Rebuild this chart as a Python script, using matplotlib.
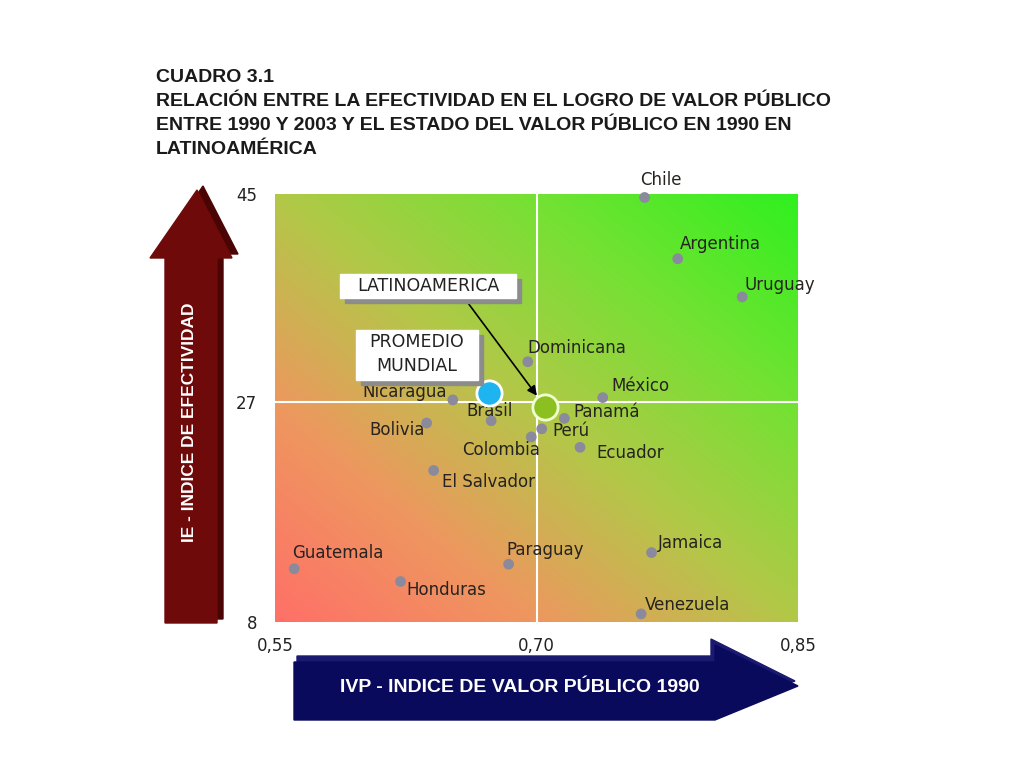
import numpy as np
import matplotlib
matplotlib.use('Agg')
import matplotlib.pyplot as plt
from matplotlib.colors import LinearSegmentedColormap
from matplotlib.patches import Polygon, Rectangle

plt.rcParams['font.family'] = ['DejaVu Sans']

# datos
paises = ['Chile', 'Argentina', 'Uruguay', 'Dominicana', 'México', 'Panamá', 'Perú',
          'Ecuador', 'Colombia', 'El Salvador', 'Bolivia', 'Nicaragua', 'Brasil',
          'Guatemala', 'Honduras', 'Paraguay', 'Jamaica', 'Venezuela']
ivp = [0.762, 0.781, 0.818, 0.695, 0.738, 0.716, 0.703,
       0.725, 0.697, 0.641, 0.637, 0.652, 0.674,
       0.561, 0.622, 0.684, 0.766, 0.760]
ie = [44.7, 39.4, 36.1, 30.5, 27.4, 25.6, 24.7,
      23.1, 24.0, 21.1, 25.2, 27.2, 25.4,
      12.6, 11.5, 13.0, 14.0, 8.7]
# desplazamiento de etiquetas en pixeles (dx, dy, alineación)
etiq = [(-4, 17, 'left'), (2, 15, 'left'), (2, 12, 'left'), (0, 14, 'left'),
        (9, 12, 'left'), (9, 6, 'left'), (11, -2, 'left'), (16, -6, 'left'),
        (-69, -13, 'left'), (8, -12, 'left'), (-2, -7, 'right'), (-6, 8, 'right'),
        (-2, 10, 'center'), (-2, 16, 'left'), (6, -8, 'left'), (-2, 14, 'left'),
        (6, 10, 'left'), (4, 9, 'left')]

mundial = (0.673, 27.8)
latam = (0.705, 26.6)

xticks = [0.55, 0.70, 0.85]
xticklabels = ['0,55', '0,70', '0,85']
yticks = [8, 27, 45]

fig = plt.figure(figsize=(10.24, 7.68), dpi=100)

# capa para flechas, titulo y recuadros (coordenadas en pixeles)
ov = fig.add_axes([0, 0, 1, 1], zorder=5)
ov.set_xlim(0, 1024)
ov.set_ylim(768, 0)
ov.axis('off')
ov.patch.set_alpha(0)

ax = fig.add_axes([275 / 1024, 1 - 622 / 768, 523 / 1024, 428 / 768], zorder=2)
ax.set_xlim(0.55, 0.85)
ax.set_ylim(8, 45)

# fondo degradado
n = 300
u, v = np.meshgrid(np.linspace(0, 1, n), np.linspace(0, 1, n))
t = (u + v) / 2
cmap = LinearSegmentedColormap.from_list('grad', [
    (0.0, '#ff7068'), (0.25, '#ee975f'), (0.5, '#b2c848'), (0.75, '#72e232'), (1.0, '#30f020')])
ax.imshow(t, cmap=cmap, origin='lower', extent=[0.55, 0.85, 8, 45], aspect='auto', zorder=0)

ax.axvline(0.70, color='white', lw=1.5, zorder=1)
ax.axhline(27, color='white', lw=1.5, zorder=1)

ax.scatter(ivp, ie, s=60, color='#8a8a9c', zorder=3, clip_on=False, edgecolors='none')
for p, x, y, (dx, dy, ha) in zip(paises, ivp, ie, etiq):
    ax.annotate(p, (x, y), xytext=(dx, dy), textcoords='offset pixels', ha=ha, va='center',
                fontsize=12, color='#262320', zorder=4, annotation_clip=False)

ax.scatter([mundial[0]], [mundial[1]], s=330, color='#1eb4f0', edgecolors='white', linewidths=2, zorder=4)
ax.scatter([latam[0]], [latam[1]], s=330, color='#8cc021', edgecolors='#f0ffd0', linewidths=2, zorder=4)

ax.set_xticks(xticks)
ax.set_xticklabels(xticklabels, fontsize=12, color='#222222')
ax.set_yticks(yticks)
ax.set_yticklabels([str(y) for y in yticks], fontsize=12, color='#222222')
ax.tick_params(axis='y', length=0, pad=13)
ax.tick_params(axis='x', length=0, pad=11)
for s in ax.spines.values():
    s.set_visible(False)

# titulo
titulo = ['CUADRO 3.1',
          'RELACIÓN ENTRE LA EFECTIVIDAD EN EL LOGRO DE VALOR PÚBLICO',
          'ENTRE 1990 Y 2003 Y EL ESTADO DEL VALOR PÚBLICO EN 1990 EN',
          'LATINOAMÉRICA']
for i, linea in enumerate(titulo):
    ov.text(156, 78 + i * 24, linea, family='Liberation Sans', fontweight='bold',
            fontsize=14, color='#1a1a1a', va='center', ha='left')

# flecha vertical
sombra_v = [(171, 619), (171, 254), (156, 254), (203, 186), (238, 254), (223, 254), (223, 619)]
flecha_v = [(165, 623), (165, 258), (150, 258), (197, 190), (232, 258), (217, 258), (217, 623)]
ov.add_patch(Polygon(sombra_v, closed=True, color='#4a0404', zorder=1))
ov.add_patch(Polygon(flecha_v, closed=True, color='#6e0a0a', zorder=2))
ov.text(190, 422, 'IE - INDICE DE EFECTIVIDAD', rotation=90, color='white', fontweight='bold',
        family='Liberation Sans', fontsize=12.5, ha='center', va='center', zorder=3)

# flecha horizontal
sombra_h = [(297, 656), (711, 656), (711, 639), (795, 681), (711, 712), (297, 712)]
flecha_h = [(294, 662), (715, 662), (715, 645), (798, 686), (715, 720), (294, 720)]
ov.add_patch(Polygon(sombra_h, closed=True, color='#1a1a70', zorder=1))
ov.add_patch(Polygon(flecha_h, closed=True, color='#0a0a5c', zorder=2))
ov.text(520, 688, 'IVP - INDICE DE VALOR PÚBLICO 1990', color='white', fontweight='bold',
        family='Liberation Sans', fontsize=14, ha='center', va='center', zorder=3)

# recuadros
ov.add_patch(Rectangle((345, 279), 176, 24, color='#8c8c8c', zorder=1))
ov.add_patch(Rectangle((340, 274), 176, 24, color='white', zorder=2))
ov.text(428, 286, 'LATINOAMERICA', fontsize=12.5, color='#222222', ha='center', va='center', zorder=3)

ov.add_patch(Rectangle((361, 335), 122, 50, color='#8c8c8c', zorder=1))
ov.add_patch(Rectangle((356, 330), 122, 50, color='white', zorder=2))
ov.text(417, 342, 'PROMEDIO', fontsize=12.5, color='#222222', ha='center', va='center', zorder=3)
ov.text(417, 366, 'MUNDIAL', fontsize=12.5, color='#222222', ha='center', va='center', zorder=3)

ax.annotate('', xy=latam, xycoords='data', xytext=(468, 303), textcoords=ov.transData,
            arrowprops=dict(arrowstyle='-|>', color='black', lw=1.2, shrinkA=0, shrinkB=10,
                            mutation_scale=14), zorder=5)

fig.savefig('out.png', dpi=100, facecolor='white')
